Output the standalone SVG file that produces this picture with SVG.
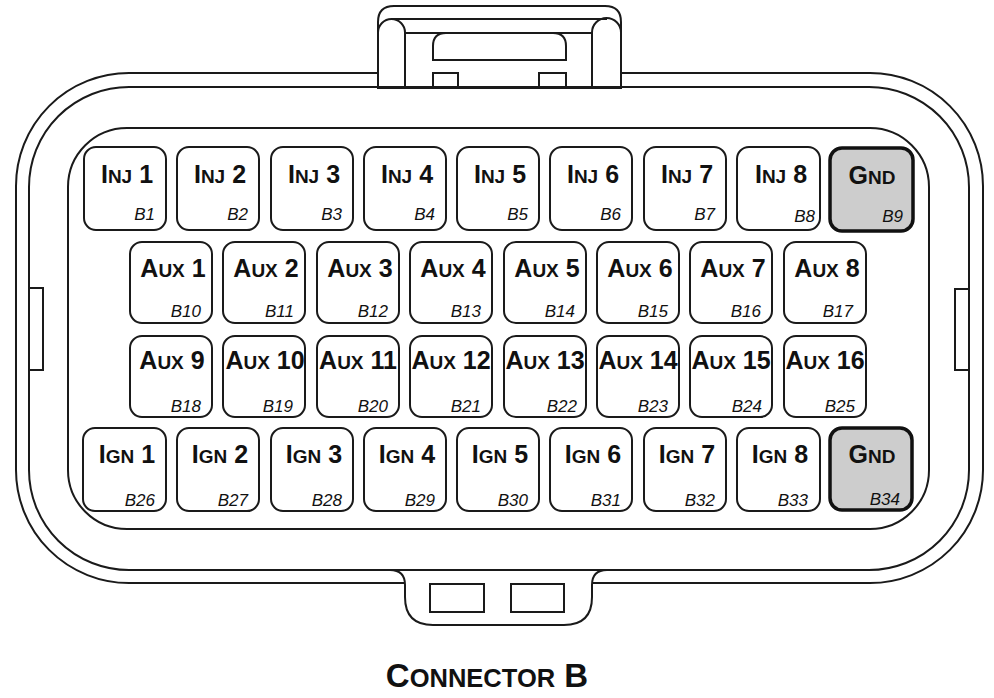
<svg xmlns="http://www.w3.org/2000/svg" width="994" height="698" viewBox="0 0 994 698">
<style>
.ln{fill:none;stroke:#1a1a1a;stroke-width:2}
.wf{fill:#fff;stroke:#1a1a1a;stroke-width:2}
.pin{fill:#fff;stroke:#1a1a1a;stroke-width:2}
.gnd{fill:#cdcdcd;stroke:#111;stroke-width:3.5}
.nm{font-family:"Liberation Sans",Arial,sans-serif;font-weight:bold;font-size:25px;text-anchor:middle;fill:#111}
.sc{font-size:19px}
.lb{font-family:"Liberation Sans",Arial,sans-serif;font-style:italic;font-size:17px;text-anchor:end;fill:#111}
.tt{font-family:"Liberation Sans",Arial,sans-serif;font-weight:bold;font-size:33px;text-anchor:middle;fill:#111}
.tt .sc{font-size:25.5px}
</style>
<rect width="994" height="698" fill="#fff"/>
<g id="housing">
  <rect class="ln" x="16" y="73" width="967" height="510" rx="113" ry="113"/>
  <!-- top latch -->
  <path class="wf" d="M378 88 L378 22 Q378 6 394 6 L605 6 Q621 6 621 22 L621 88 Z"/>
  <path class="ln" d="M378 87 L378 32.5 A13.5 13.5 0 0 1 405 32.5 L405 87"/>
  <path class="ln" d="M592 87 L592 32.5 A14.5 14.5 0 0 1 621 32.5 L621 87"/>
  <line class="ln" x1="392" y1="19" x2="607" y2="19"/>
  <line class="ln" x1="405" y1="33" x2="592" y2="33"/>
  <path class="ln" d="M433 60 L433 46 Q433 33 446 33 L553 33 Q566 33 566 46 L566 60 Z"/>
  <path class="ln" d="M433 87 L433 73 L458 73 L458 87"/>
  <path class="ln" d="M539 87 L539 73 L566 73 L566 87"/>
  <!-- bottom latch -->
  <path class="wf" d="M390 570 Q405 570 405 585 L405 597 Q405 625 433 625 L564 625 Q592 625 592 597 L592 585 Q592 570 607 570 Z"/>
  <rect class="ln" x="430" y="584" width="54" height="28"/>
  <rect class="ln" x="511" y="584" width="53" height="28"/>
  <rect class="ln" x="29" y="87" width="940" height="483" rx="100" ry="100"/>
  <!-- side tabs -->
  <rect class="ln" x="29" y="288" width="14" height="82"/>
  <rect class="ln" x="955" y="289" width="14" height="81"/>
  <!-- pin panel -->
  <rect class="ln" x="68" y="128" width="861" height="401" rx="59" ry="59"/>
</g>
<g id="pins">
  <g id="pin-B1"><rect class="pin" x="84" y="147" width="82" height="83" rx="12"/><text class="nm" x="127" y="183">I<tspan class="sc">NJ</tspan> 1</text><text class="lb" x="155" y="220">B1</text></g>
  <g id="pin-B2"><rect class="pin" x="177" y="147" width="82" height="83" rx="12"/><text class="nm" x="220" y="183">I<tspan class="sc">NJ</tspan> 2</text><text class="lb" x="248" y="220">B2</text></g>
  <g id="pin-B3"><rect class="pin" x="271" y="147" width="82" height="83" rx="12"/><text class="nm" x="314" y="183">I<tspan class="sc">NJ</tspan> 3</text><text class="lb" x="342" y="220">B3</text></g>
  <g id="pin-B4"><rect class="pin" x="364" y="147" width="82" height="83" rx="12"/><text class="nm" x="407" y="183">I<tspan class="sc">NJ</tspan> 4</text><text class="lb" x="435" y="220">B4</text></g>
  <g id="pin-B5"><rect class="pin" x="457" y="147" width="82" height="83" rx="12"/><text class="nm" x="500" y="183">I<tspan class="sc">NJ</tspan> 5</text><text class="lb" x="528" y="220">B5</text></g>
  <g id="pin-B6"><rect class="pin" x="550" y="147" width="82" height="83" rx="12"/><text class="nm" x="593" y="183">I<tspan class="sc">NJ</tspan> 6</text><text class="lb" x="621" y="220">B6</text></g>
  <g id="pin-B7"><rect class="pin" x="644" y="147" width="82" height="83" rx="12"/><text class="nm" x="687" y="183">I<tspan class="sc">NJ</tspan> 7</text><text class="lb" x="715" y="220">B7</text></g>
  <g id="pin-B8"><rect class="pin" x="737" y="147" width="83" height="83" rx="12"/><text class="nm" x="781" y="183">I<tspan class="sc">NJ</tspan> 8</text><text class="lb" x="815" y="222">B8</text></g>
  <g id="pin-B9"><rect class="gnd" x="830" y="148" width="83" height="83" rx="12"/><text class="nm" x="872" y="184">G<tspan class="sc">ND</tspan></text><text class="lb" x="903" y="222">B9</text></g>

  <g id="pin-B10"><rect class="pin" x="130" y="242" width="82" height="81" rx="12"/><text class="nm" x="173" y="277">A<tspan class="sc">UX</tspan> 1</text><text class="lb" x="201" y="317">B10</text></g>
  <g id="pin-B11"><rect class="pin" x="223" y="242" width="82" height="81" rx="12"/><text class="nm" x="266" y="277">A<tspan class="sc">UX</tspan> 2</text><text class="lb" x="294" y="317">B11</text></g>
  <g id="pin-B12"><rect class="pin" x="317" y="242" width="82" height="81" rx="12"/><text class="nm" x="360" y="277">A<tspan class="sc">UX</tspan> 3</text><text class="lb" x="388" y="317">B12</text></g>
  <g id="pin-B13"><rect class="pin" x="410" y="242" width="82" height="81" rx="12"/><text class="nm" x="453" y="277">A<tspan class="sc">UX</tspan> 4</text><text class="lb" x="481" y="317">B13</text></g>
  <g id="pin-B14"><rect class="pin" x="504" y="242" width="82" height="81" rx="12"/><text class="nm" x="547" y="277">A<tspan class="sc">UX</tspan> 5</text><text class="lb" x="575" y="317">B14</text></g>
  <g id="pin-B15"><rect class="pin" x="597" y="242" width="82" height="81" rx="12"/><text class="nm" x="640" y="277">A<tspan class="sc">UX</tspan> 6</text><text class="lb" x="668" y="317">B15</text></g>
  <g id="pin-B16"><rect class="pin" x="690" y="242" width="82" height="81" rx="12"/><text class="nm" x="733" y="277">A<tspan class="sc">UX</tspan> 7</text><text class="lb" x="761" y="317">B16</text></g>
  <g id="pin-B17"><rect class="pin" x="784" y="242" width="82" height="81" rx="12"/><text class="nm" x="827" y="277">A<tspan class="sc">UX</tspan> 8</text><text class="lb" x="853" y="317">B17</text></g>

  <g id="pin-B18"><rect class="pin" x="130" y="336" width="82" height="81" rx="12"/><text class="nm" x="172" y="369">A<tspan class="sc">UX</tspan> 9</text><text class="lb" x="201" y="412">B18</text></g>
  <g id="pin-B19"><rect class="pin" x="223" y="336" width="82" height="81" rx="12"/><text class="nm" x="265" y="369">A<tspan class="sc">UX</tspan> 10</text><text class="lb" x="293" y="412">B19</text></g>
  <g id="pin-B20"><rect class="pin" x="317" y="336" width="82" height="81" rx="12"/><text class="nm" x="358" y="369">A<tspan class="sc">UX</tspan> 11</text><text class="lb" x="388" y="412">B20</text></g>
  <g id="pin-B21"><rect class="pin" x="410" y="336" width="82" height="81" rx="12"/><text class="nm" x="451" y="369">A<tspan class="sc">UX</tspan> 12</text><text class="lb" x="481" y="412">B21</text></g>
  <g id="pin-B22"><rect class="pin" x="504" y="336" width="82" height="81" rx="12"/><text class="nm" x="545" y="369">A<tspan class="sc">UX</tspan> 13</text><text class="lb" x="577" y="412">B22</text></g>
  <g id="pin-B23"><rect class="pin" x="597" y="336" width="82" height="81" rx="12"/><text class="nm" x="638" y="369">A<tspan class="sc">UX</tspan> 14</text><text class="lb" x="668" y="412">B23</text></g>
  <g id="pin-B24"><rect class="pin" x="690" y="336" width="82" height="81" rx="12"/><text class="nm" x="731" y="369">A<tspan class="sc">UX</tspan> 15</text><text class="lb" x="762" y="412">B24</text></g>
  <g id="pin-B25"><rect class="pin" x="784" y="336" width="82" height="81" rx="12"/><text class="nm" x="825" y="369">A<tspan class="sc">UX</tspan> 16</text><text class="lb" x="855" y="412">B25</text></g>

  <g id="pin-B26"><rect class="pin" x="83" y="428" width="83" height="83" rx="12"/><text class="nm" x="127" y="463">I<tspan class="sc">GN</tspan> 1</text><text class="lb" x="155" y="506">B26</text></g>
  <g id="pin-B27"><rect class="pin" x="177" y="428" width="82" height="83" rx="12"/><text class="nm" x="220" y="463">I<tspan class="sc">GN</tspan> 2</text><text class="lb" x="248" y="506">B27</text></g>
  <g id="pin-B28"><rect class="pin" x="271" y="428" width="82" height="83" rx="12"/><text class="nm" x="314" y="463">I<tspan class="sc">GN</tspan> 3</text><text class="lb" x="342" y="506">B28</text></g>
  <g id="pin-B29"><rect class="pin" x="364" y="428" width="82" height="83" rx="12"/><text class="nm" x="407" y="463">I<tspan class="sc">GN</tspan> 4</text><text class="lb" x="435" y="506">B29</text></g>
  <g id="pin-B30"><rect class="pin" x="457" y="428" width="82" height="83" rx="12"/><text class="nm" x="500" y="463">I<tspan class="sc">GN</tspan> 5</text><text class="lb" x="528" y="506">B30</text></g>
  <g id="pin-B31"><rect class="pin" x="550" y="428" width="82" height="83" rx="12"/><text class="nm" x="593" y="463">I<tspan class="sc">GN</tspan> 6</text><text class="lb" x="621" y="506">B31</text></g>
  <g id="pin-B32"><rect class="pin" x="644" y="428" width="82" height="83" rx="12"/><text class="nm" x="687" y="463">I<tspan class="sc">GN</tspan> 7</text><text class="lb" x="715" y="506">B32</text></g>
  <g id="pin-B33"><rect class="pin" x="737" y="428" width="83" height="83" rx="12"/><text class="nm" x="780" y="463">I<tspan class="sc">GN</tspan> 8</text><text class="lb" x="808" y="506">B33</text></g>
  <g id="pin-B34"><rect class="gnd" x="830" y="428" width="82" height="82" rx="12"/><text class="nm" x="872" y="463">G<tspan class="sc">ND</tspan></text><text class="lb" x="900" y="505">B34</text></g>
</g>
<g id="connectors"></g>
<g id="title"><text class="tt" x="487" y="687">C<tspan class="sc">ONNECTOR</tspan> B</text></g>
</svg>
